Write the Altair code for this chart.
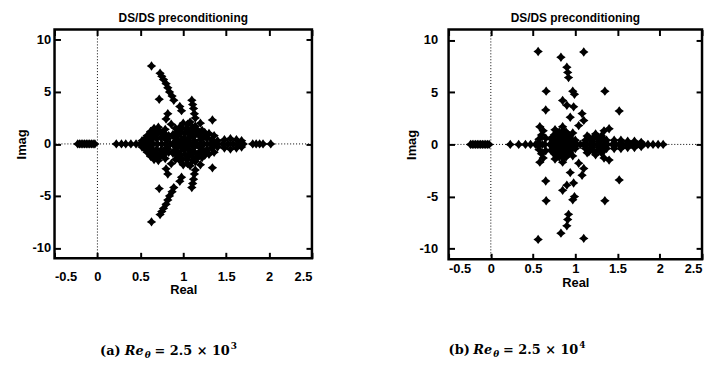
import altair as alt
import pandas as pd

# ---------------- text / ticks ----------------
x_ticks = [-0.5, 0, 0.5, 1, 1.5, 2, 2.5]
y_ticks = [-10, -5, 0, 5, 10]
panel_title = "DS/DS preconditioning"
x_title = "Real"
y_title = "Imag"
cap_labels = ["(a)", "(b)"]
cap_re = "Re"
cap_sub = "θ"
cap_value = "= 2.5 × 10"
cap_exponents = ["3", "4"]
zero_line = [0]

# ---------------- panel (a): Re = 2.5e3 ----------------
a_axis_re = [-0.23, -0.21, -0.19, -0.17, -0.15, -0.13, -0.11, -0.09, -0.07, -0.05, -0.03,
             0.22, 0.28, 0.33, 0.39, 0.45,
             0.50, 0.55, 0.60, 0.65, 0.70, 0.75, 0.80, 0.85,
             0.88, 0.92, 0.96, 1.00, 1.04, 1.08, 1.12, 1.16, 1.20, 1.24,
             1.28, 1.32, 1.36, 1.40,
             1.46, 1.52, 1.58, 1.64, 1.70,
             1.81, 1.85, 1.89, 1.93, 2.02]
a_up_re = [0.55, 0.58, 0.62, 0.64, 0.68, 0.66, 0.72, 0.74, 0.78, 0.80, 0.83, 0.62, 0.70,
           0.52, 0.57, 0.60, 0.63, 0.66, 0.69, 0.71, 0.76, 0.79, 0.82,
           0.90, 0.93, 0.96, 0.98, 1.00, 1.02, 1.04, 1.06, 1.08, 1.10, 1.12, 1.14, 1.17, 1.20, 1.22,
           0.95, 1.05, 0.92, 1.15, 1.01,
           0.88, 0.91, 0.94, 0.97, 0.99, 1.03, 1.06, 1.09, 1.11, 1.13, 1.16, 1.19, 1.23, 1.25,
           1.27, 1.30, 1.33, 1.36, 1.40,
           1.48, 1.55, 1.62, 1.68,
           0.63, 0.73, 0.75, 0.77, 0.80, 0.82, 0.84, 0.87, 0.89, 0.72, 0.96, 0.98,
           1.10, 1.11, 1.12, 1.13, 1.14, 1.20, 1.34, 0.82, 0.80, 0.86]
a_up_im = [0.4, 0.8, 1.2, 0.5, 0.9, 1.5, 1.3, 0.6, 1.0, 0.4, 0.8, 0.9, 1.0,
           0.3, 0.6, 0.3, 0.7, 1.1, 0.5, 1.6, 0.9, 1.4, 0.5,
           0.6, 1.1, 1.6, 0.4, 2.0, 1.0, 1.5, 0.5, 2.1, 1.2, 0.7, 1.7, 1.0, 0.4, 1.3,
           1.2, 1.9, 0.3, 1.3, 0.6,
           0.9, 1.5, 0.8, 1.1, 1.5, 0.3, 1.2, 0.8, 1.6, 0.3, 1.4, 0.8, 0.6, 1.1,
           0.6, 1.0, 0.4, 0.8, 0.3,
           0.4, 0.5, 0.4, 0.3,
           7.5, 6.8, 6.5, 6.2, 5.8, 5.4, 5.0, 4.6, 4.2, 4.3, 3.6, 3.2,
           4.2, 3.8, 3.4, 2.9, 2.5, 2.0, 2.3, 2.9, 2.4, 1.9]
a_lo_re = [0.55, 0.58, 0.62, 0.64, 0.68, 0.66, 0.72, 0.74, 0.78, 0.80, 0.83, 0.62, 0.70,
           0.52, 0.57, 0.60, 0.63, 0.66, 0.69, 0.71, 0.76, 0.79, 0.82,
           0.90, 0.93, 0.96, 0.98, 1.00, 1.02, 1.04, 1.06, 1.08, 1.10, 1.12, 1.14, 1.17, 1.20, 1.22,
           0.95, 1.05, 0.92, 1.15, 1.01,
           0.88, 0.91, 0.94, 0.97, 0.99, 1.03, 1.06, 1.09, 1.11, 1.13, 1.16, 1.19, 1.23, 1.25,
           1.27, 1.30, 1.33, 1.36, 1.40,
           1.48, 1.55, 1.62, 1.68,
           0.63, 0.73, 0.75, 0.77, 0.80, 0.82, 0.84, 0.87, 0.89, 0.72, 0.96, 0.98,
           1.10, 1.11, 1.12, 1.13, 1.14, 1.20, 1.34, 0.82, 0.80, 0.86]
a_lo_im = [-0.4, -0.8, -1.2, -0.5, -0.9, -1.5, -1.3, -0.6, -1.0, -0.4, -0.8, -0.9, -1.0,
           -0.3, -0.6, -0.3, -0.7, -1.1, -0.5, -1.6, -0.9, -1.4, -0.5,
           -0.6, -1.1, -1.6, -0.4, -2.0, -1.0, -1.5, -0.5, -2.1, -1.2, -0.7, -1.7, -1.0, -0.4, -1.3,
           -1.2, -1.9, -0.3, -1.3, -0.6,
           -0.9, -1.5, -0.8, -1.1, -1.5, -0.3, -1.2, -0.8, -1.6, -0.3, -1.4, -0.8, -0.6, -1.1,
           -0.6, -1.0, -0.4, -0.8, -0.3,
           -0.4, -0.5, -0.4, -0.3,
           -7.5, -6.8, -6.5, -6.2, -5.8, -5.4, -5.0, -4.6, -4.2, -4.3, -3.6, -3.2,
           -4.2, -3.8, -3.4, -2.9, -2.5, -2.0, -2.3, -2.9, -2.4, -1.9]

# ---------------- panel (b): Re = 2.5e4 ----------------
b_axis_re = [-0.24, -0.22, -0.20, -0.18, -0.16, -0.14, -0.12, -0.10, -0.08, -0.06, -0.04, -0.02,
             0.23, 0.33, 0.41, 0.47, 0.53,
             0.55, 0.58, 0.61, 0.64,
             0.70, 0.74, 0.78, 0.82, 0.86, 0.90, 0.94, 0.98, 1.02,
             1.06, 1.10, 1.14, 1.18, 1.22, 1.26, 1.30, 1.34, 1.38,
             1.44, 1.48, 1.52, 1.56, 1.60, 1.64, 1.68, 1.72, 1.76, 1.80, 1.86, 1.92, 1.98, 2.04]
b_up_re = [0.57, 0.60, 0.62, 0.58, 0.65,
           0.72, 0.75, 0.78, 0.80, 0.83, 0.86, 0.88, 0.91, 0.94, 0.97, 1.00, 0.85,
           0.73, 0.77, 0.79, 0.81, 0.84, 0.87, 0.89, 0.92, 0.93, 0.96, 0.76,
           1.12, 1.16, 1.20, 1.24, 1.27, 1.31, 1.34, 1.37, 1.40,
           1.14, 1.18, 1.22, 1.29, 1.33,
           1.46, 1.54, 1.62, 1.70, 1.78,
           0.56, 1.10, 0.83, 0.90, 0.91, 0.92, 0.655, 0.97, 0.99, 1.35,
           0.85, 0.90, 0.98, 0.94, 1.08, 1.10, 1.04, 0.65, 1.52]
b_up_im = [0.5, 0.9, 1.3, 1.7, 0.6,
           0.5, 0.9, 1.2, 0.4, 0.8, 1.3, 0.5, 1.0, 0.6, 1.1, 0.4, 1.7,
           0.7, 0.3, 0.9, 1.2, 0.3, 0.9, 1.2, 0.3, 0.8, 0.4, 1.4,
           0.4, 0.7, 0.3, 1.0, 0.5, 0.8, 1.3, 0.4, 1.5,
           0.8, 0.5, 0.7, 0.3, 0.6,
           0.4, 0.4, 0.3, 0.3, 0.2,
           8.9, 8.85, 8.35, 7.4, 6.9, 6.4, 5.1, 5.1, 4.8, 5.1,
           4.2, 3.75, 3.6, 2.6, 2.95, 2.3, 1.8, 3.3, 3.2]
b_lo_re = [0.57, 0.60, 0.62, 0.58, 0.65,
           0.72, 0.75, 0.78, 0.80, 0.83, 0.86, 0.88, 0.91, 0.94, 0.97, 1.00, 0.85,
           0.73, 0.77, 0.79, 0.81, 0.84, 0.87, 0.89, 0.92, 0.93, 0.96, 0.76,
           1.12, 1.16, 1.20, 1.24, 1.27, 1.31, 1.34, 1.37, 1.40,
           1.14, 1.18, 1.22, 1.29, 1.33,
           1.46, 1.54, 1.62, 1.70, 1.78,
           0.56, 1.10, 0.83, 0.90, 0.91, 0.92, 0.655, 0.97, 0.99, 1.35,
           0.85, 0.90, 0.98, 0.94, 1.08, 1.10, 1.04, 0.65, 1.52]
b_lo_im = [-0.5, -0.9, -1.3, -1.7, -0.6,
           -0.5, -0.9, -1.2, -0.4, -0.8, -1.3, -0.5, -1.0, -0.6, -1.1, -0.4, -1.7,
           -0.7, -0.3, -0.9, -1.2, -0.3, -0.9, -1.2, -0.3, -0.8, -0.4, -1.4,
           -0.4, -0.7, -0.3, -1.0, -0.5, -0.8, -1.3, -0.4, -1.5,
           -0.8, -0.5, -0.7, -0.3, -0.6,
           -0.4, -0.4, -0.3, -0.3, -0.2,
           -9.1, -9.0, -8.5, -7.8, -7.2, -6.7, -5.4, -5.3, -5.0, -5.4,
           -4.4, -3.9, -3.7, -2.7, -2.95, -2.3, -1.8, -3.5, -3.4]

STAR = "M0,-1L0.42,-0.42L1,0L0.42,0.42L0,1L-0.42,0.42L-1,0L-0.42,-0.42Z"


def make_df(axis_re, up_re, up_im, lo_re, lo_im):
    re = list(axis_re) + list(up_re) + list(lo_re)
    im = [0.0] * len(axis_re) + list(up_im) + list(lo_im)
    return pd.DataFrame({"re": re, "im": im})


def caption(label, exp, x0, y0):
    parts = [
        (label, 0, 0, 13, "normal"),
        (cap_re, 25, 0, 13, "italic"),
        (cap_sub, 45, 3, 9, "italic"),
        (cap_value, 55, 0, 13, "normal"),
        (exp, 132, -6, 9, "normal"),
    ]
    out = []
    for t, dx, dy, fs, st in parts:
        out.append(
            alt.Chart(pd.DataFrame({"t": [t]}))
            .mark_text(align="left", baseline="alphabetic", font="DejaVu Serif",
                       fontWeight="bold", fontSize=fs, fontStyle=st, color="black")
            .encode(text="t:N", x=alt.value(x0 + dx), y=alt.value(y0 + dy))
        )
    return out


def panel(df, w, h, p, label, exp):
    xs = alt.Scale(domain=[-0.5, 2.5], nice=False, zero=False)
    ys = alt.Scale(domain=[-11, 11], nice=False, zero=False)
    tick_common = dict(offset=-6, tickSize=6, tickWidth=2, tickColor="black",
                       domain=False, grid=False)
    pts = alt.Chart(df).mark_point(shape=STAR, filled=True, color="black", opacity=1,
                                   size=90, strokeWidth=0).encode(
        x=alt.X("re:Q", scale=xs,
                axis=alt.Axis(orient="bottom", values=x_ticks, title=x_title,
                              labelPadding=p["xlp"], titlePadding=p["xtp"],
                              labelExpr="datum.value + ''", **tick_common)),
        y=alt.Y("im:Q", scale=ys,
                axis=alt.Axis(orient="left", values=y_ticks, title=y_title,
                              labelPadding=p["ylp"], titlePadding=p["ytp"],
                              labelExpr="datum.value + ''", **tick_common)),
    )
    zdf = pd.DataFrame({"v": zero_line})
    hz = alt.Chart(zdf).mark_rule(color="black", strokeWidth=1, strokeDash=[1, 2]).encode(
        y=alt.Y("v:Q", scale=ys,
                axis=alt.Axis(orient="right", values=y_ticks, labels=False, title=None,
                              **tick_common)))
    vz = alt.Chart(zdf).mark_rule(color="black", strokeWidth=1, strokeDash=[1, 2]).encode(
        x=alt.X("v:Q", scale=xs,
                axis=alt.Axis(orient="top", values=x_ticks, labels=False, title=None,
                              **tick_common)))
    layers = [hz, vz, pts] + caption(label, exp, p["cx"], p["cy"])
    return alt.layer(*layers).resolve_scale(x="independent", y="independent").properties(
        width=w, height=h,
        title=alt.TitleParams(panel_title, anchor="middle"))


df_a = make_df(a_axis_re, a_up_re, a_up_im, a_lo_re, a_lo_im)
df_b = make_df(b_axis_re, b_up_re, b_up_im, b_lo_re, b_lo_im)

left = panel(df_a, 260, 231, dict(xlp=12, xtp=1, ylp=4, ytp=4, cx=46, cy=329),
             cap_labels[0], cap_exponents[0])
right = panel(df_b, 256, 232, dict(xlp=3, xtp=2, ylp=11, ytp=1, cx=0, cy=328),
              cap_labels[1], cap_exponents[1])

chart = alt.hconcat(left, right, spacing=89).properties(
    padding={"left": 5, "top": 0, "right": 0, "bottom": 0}
).configure_view(
    stroke="black", strokeWidth=2.5
).configure_axis(
    labelFont="Liberation Sans", labelFontWeight="bold", labelFontSize=13, labelColor="black",
    titleFont="Liberation Sans", titleFontWeight="bold", titleFontSize=13, titleColor="black"
).configure_title(
    font="Liberation Sans", fontWeight="bold", fontSize=12, color="black", offset=4
)

chart.save("out.html", embed_options={"renderer": "svg", "actions": False})
